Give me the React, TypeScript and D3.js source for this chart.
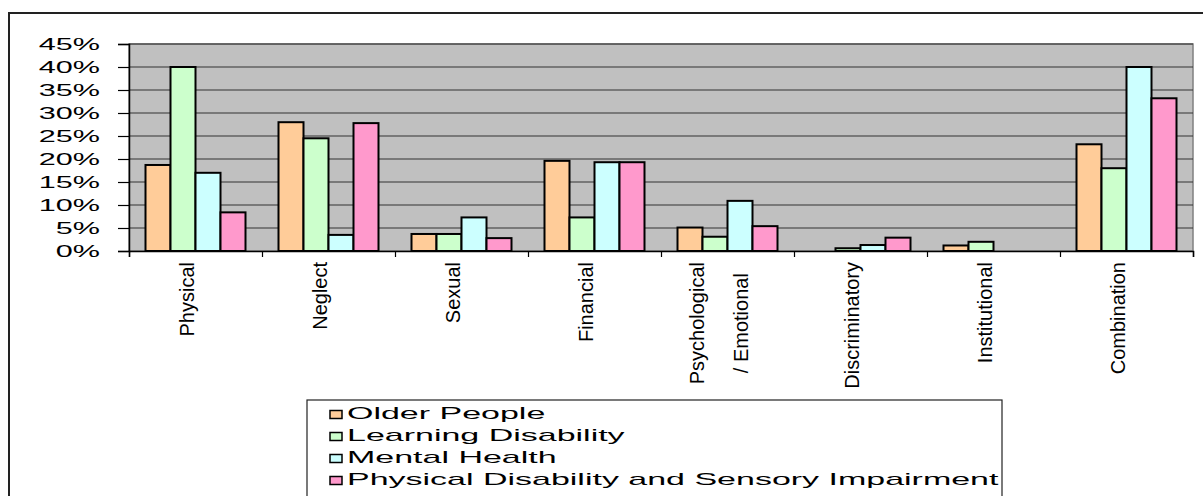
import React, { useEffect, useRef } from 'react';
import * as d3 from 'd3';

// categories (multi-line labels split on '|')
const categories = [
  'Physical',
  'Neglect',
  'Sexual',
  'Financial',
  'Psychological|/ Emotional',
  'Discriminatory',
  'Institutional',
  'Combination',
];

const seriesNames = [
  'Older People',
  'Learning Disability',
  'Mental Health',
  'Physical Disability and Sensory Impairment',
];

const seriesColors = ['#FFCC99', '#CCFFCC', '#CCFFFF', '#FF99CC'];

// percentages per category
const olderPeople = [18.7, 28.0, 3.7, 19.6, 5.1, 0, 1.2, 23.2];
const learningDisability = [40.0, 24.5, 3.7, 7.3, 3.1, 0.6, 2.0, 18.0];
const mentalHealth = [17.0, 3.5, 7.3, 19.3, 10.9, 1.3, 0, 40.0];
const physicalSensory = [8.4, 27.8, 2.8, 19.3, 5.4, 2.9, 0, 33.2];

const yTicks = [0, 5, 10, 15, 20, 25, 30, 35, 40, 45];

const W = 1203;
const H = 496;
const FONT = '"Liberation Sans", Arial, sans-serif';

const App: React.FC = () => {
  const ref = useRef<SVGSVGElement | null>(null);

  useEffect(() => {
    const svg = d3.select(ref.current);
    svg.selectAll('*').remove();

    const plot = { left: 129, right: 1193, top: 44, bottom: 251 };
    const values = [olderPeople, learningDisability, mentalHealth, physicalSensory];

    // outer frame
    svg.append('rect')
      .attr('x', 9).attr('y', 13)
      .attr('width', W).attr('height', H)
      .attr('fill', 'white')
      .attr('stroke', '#222')
      .attr('stroke-width', 2);

    const x = d3.scaleBand<string>()
      .domain(categories)
      .range([plot.left, plot.right])
      .padding(0);

    const x1 = d3.scaleBand<string>()
      .domain(seriesNames)
      .range([0, x.bandwidth()])
      .paddingInner(0)
      .paddingOuter(0.66);

    const y = d3.scaleLinear()
      .domain([0, 45])
      .range([plot.bottom, plot.top]);

    // plot background
    svg.append('rect')
      .attr('x', plot.left).attr('y', plot.top)
      .attr('width', plot.right - plot.left)
      .attr('height', plot.bottom - plot.top)
      .attr('fill', '#C0C0C0')
      .attr('stroke', '#808080')
      .attr('stroke-width', 1.5);

    // gridlines
    svg.append('g')
      .selectAll('line')
      .data(yTicks.filter(t => t > 0))
      .join('line')
      .attr('x1', plot.left).attr('x2', plot.right)
      .attr('y1', d => y(d)).attr('y2', d => y(d))
      .attr('stroke', '#333')
      .attr('stroke-width', 1.2);

    // bars
    values.forEach((vals, si) => {
      svg.append('g')
        .selectAll('rect')
        .data(vals.map((v, i) => ({ v, c: categories[i] })).filter(d => d.v > 0))
        .join('rect')
        .attr('x', d => (x(d.c) as number) + (x1(seriesNames[si]) as number))
        .attr('y', d => y(d.v))
        .attr('width', x1.bandwidth())
        .attr('height', d => y(0) - y(d.v))
        .attr('fill', seriesColors[si])
        .attr('stroke', '#000')
        .attr('stroke-width', 2);
    });

    // y axis
    const yAxis = svg.append('g')
      .attr('transform', `translate(${plot.left},0)`)
      .call(d3.axisLeft(y).tickValues(yTicks).tickSize(11).tickFormat(() => ''));
    yAxis.select('.domain').attr('stroke', '#000').attr('stroke-width', 1.5);
    yAxis.selectAll('.tick line').attr('stroke', '#000').attr('stroke-width', 1.2);

    svg.append('g')
      .selectAll('g')
      .data(yTicks)
      .join('g')
      .attr('transform', d => `translate(100,${y(d)}) scale(1.8,1)`)
      .append('text')
      .attr('text-anchor', 'end')
      .attr('dy', '0.36em')
      .attr('font-family', FONT)
      .attr('font-size', 17)
      .text(d => `${d}%`);

    // x axis
    const xAxis = svg.append('g')
      .attr('transform', `translate(0,${plot.bottom})`)
      .call(
        d3.axisBottom(d3.scaleLinear().domain([0, categories.length]).range([plot.left, plot.right]))
          .tickValues(d3.range(categories.length + 1))
          .tickSize(6)
          .tickFormat(() => '')
      );
    xAxis.select('.domain').attr('stroke', '#000').attr('stroke-width', 1.5);
    xAxis.selectAll('.tick line').attr('stroke', '#000').attr('stroke-width', 1.2);

    // rotated category labels
    const lineGap = 44;
    categories.forEach(c => {
      const lines = c.split('|');
      const cx = (x(c) as number) + x.bandwidth() / 2 - 2;
      const g = svg.append('g');
      const texts = lines.map((ln, li) => {
        const off = (li - (lines.length - 1) / 2) * lineGap;
        return g.append('text')
          .attr('font-family', FONT)
          .attr('font-size', 20)
          .attr('text-anchor', 'middle')
          .attr('data-off', off)
          .text(ln);
      });
      const maxLen = d3.max(texts, t => (t.node() as SVGTextElement).getComputedTextLength()) || 0;
      texts.forEach(t => {
        const off = +t.attr('data-off');
        t.attr('transform', `translate(${cx + off},${262 + maxLen / 2}) rotate(-90)`);
      });
    });

    // legend
    const legend = { x: 307, y: 400 };
    svg.append('rect')
      .attr('x', legend.x).attr('y', legend.y)
      .attr('width', 695).attr('height', 120)
      .attr('fill', 'white')
      .attr('stroke', '#222')
      .attr('stroke-width', 1.2);

    const rowY = d3.scaleLinear().domain([0, 1]).range([418.5, 440.5]);
    seriesNames.forEach((name, i) => {
      const by = rowY(i);
      svg.append('rect')
        .attr('x', 330).attr('y', by - 8)
        .attr('width', 12).attr('height', 8)
        .attr('fill', seriesColors[i])
        .attr('stroke', '#000')
        .attr('stroke-width', 1.5);
      svg.append('g')
        .attr('transform', `translate(347,${by}) scale(2,1)`)
        .append('text')
        .attr('font-family', FONT)
        .attr('font-size', 17)
        .text(name);
    });
  }, []);

  return (
    <svg
      ref={ref}
      width={W}
      height={H}
      style={{ position: 'absolute', left: 0, top: 0, background: 'white' }}
    />
  );
};

export default App;
